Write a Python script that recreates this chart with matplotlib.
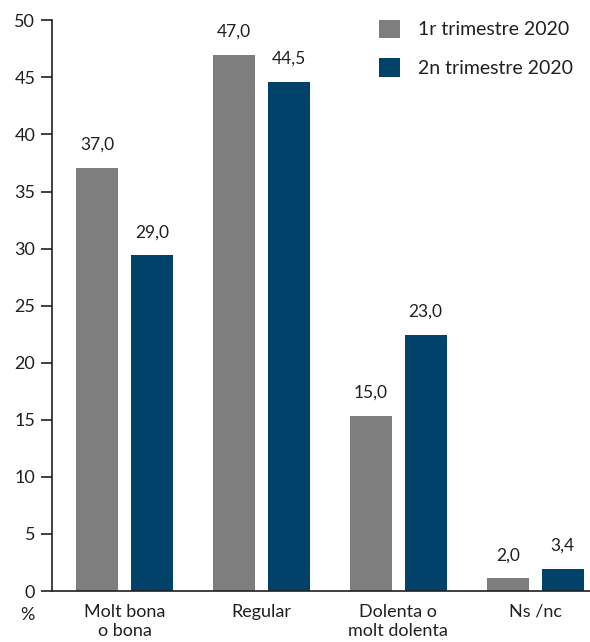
import matplotlib.pyplot as plt
import numpy as np

# Data
categories = ['Molt bona\no bona', 'Regular', 'Dolenta o\nmolt dolenta', 'Ns /nc']
series_names = ['1r trimestre 2020', '2n trimestre 2020']
# bar heights as drawn in the picture
q1_heights = [37.1, 47.0, 15.3, 1.1]
q2_heights = [29.4, 44.6, 22.4, 1.9]
# value labels printed above the bars
q1_labels = ['37,0', '47,0', '15,0', '2,0']
q2_labels = ['29,0', '44,5', '23,0', '3,4']

gray = '#7f7e7f'
blue = '#00426a'
plt.rcParams['font.family'] = ['Lato', 'DejaVu Sans']

fig = plt.figure(figsize=(5.9, 6.42), dpi=100)
ax = fig.add_axes([0.088, 0.0794, 0.912, 0.889])

x = np.arange(len(categories))
w = 0.307
off = 0.2
b1 = ax.bar(x - off, q1_heights, w, color=gray, label=series_names[0])
b2 = ax.bar(x + off, q2_heights, w, color=blue, label=series_names[1])

for bars, labels in [(b1, q1_labels), (b2, q2_labels)]:
    for bar, lab in zip(bars, labels):
        ax.annotate(lab, (bar.get_x() + bar.get_width() / 2, bar.get_height()),
                    xytext=(0, 11), textcoords='offset points', ha='center',
                    va='bottom', fontsize=12.5, color='#231f20')

ax.set_xlim(-0.53, 3.40)
ax.set_ylim(0, 50)
ax.set_yticks(range(0, 51, 5))
ax.tick_params(axis='y', length=8, width=1.2, labelsize=13, colors='#231f20', pad=4)
ax.tick_params(axis='x', length=0, labelsize=13, colors='#231f20', pad=9)
ax.set_xticks(x)
ax.set_xticklabels(categories, linespacing=1.3, va='top')
for pos in ['top', 'right']:
    ax.spines[pos].set_visible(False)
for pos in ['left', 'bottom']:
    ax.spines[pos].set_linewidth(1.2)
    ax.spines[pos].set_color('#231f20')

fig.text(0.047, 0.042, '%', fontsize=13, ha='center', va='center', color='#231f20')

ax.legend(loc='upper right', bbox_to_anchor=(1.0, 1.032), frameon=False, fontsize=14,
          handlelength=1.1, handleheight=1.1, handletextpad=0.9, labelspacing=1.0,
          labelcolor='#231f20')

fig.savefig('out.png', dpi=100)
